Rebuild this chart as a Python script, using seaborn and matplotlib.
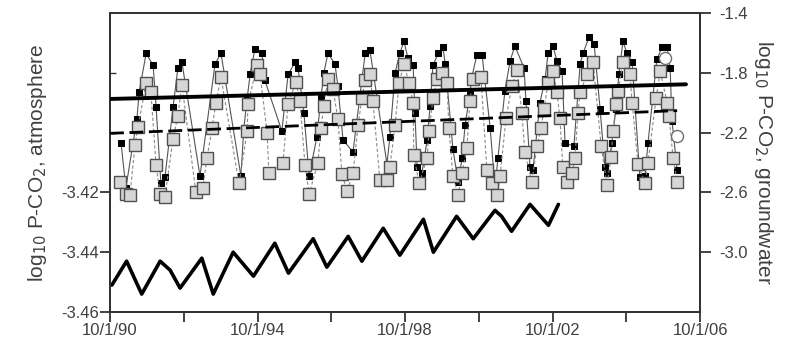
import matplotlib
matplotlib.use("Agg")
import matplotlib.pyplot as plt
from matplotlib.ticker import FixedLocator, FixedFormatter, NullFormatter
import pandas as pd
import seaborn as sns

# ---------------------------------------------------------------------------
# Data (decimal years; log10 partial pressure of CO2)
# ---------------------------------------------------------------------------
# Atmospheric P-CO2 (left axis)
atm_year = [1990.80, 1991.20, 1991.61, 1992.11, 1992.38, 1992.65, 1993.24,
            1993.55, 1994.09, 1994.64, 1995.22, 1995.59, 1996.26, 1996.63,
            1997.21, 1997.58, 1998.16, 1998.61, 1999.25, 1999.52, 2000.15,
            2000.60, 2001.19, 2001.37, 2001.64, 2002.14, 2002.64, 2002.91]
atm_val = [-3.451, -3.443, -3.454, -3.443, -3.446, -3.452, -3.442,
           -3.454, -3.440, -3.448, -3.437, -3.447, -3.4355, -3.445,
           -3.4347, -3.443, -3.432, -3.441, -3.429, -3.440, -3.428,
           -3.4355, -3.426, -3.428, -3.433, -3.424, -3.431, -3.424]

# Groundwater P-CO2, well A (small filled squares, right axis)
gw_a_year = [1991.05, 1991.18, 1991.48, 1991.54, 1991.73, 1991.92, 1992.00,
             1992.13, 1992.24, 1992.46, 1992.59, 1992.70, 1993.19, 1993.60,
             1993.76, 1994.30, 1994.38, 1994.47, 1994.55, 1994.68, 1994.87,
             1994.95, 1995.41, 1995.58, 1995.77, 1995.85, 1996.01, 1996.15,
             1996.36, 1996.47, 1996.55, 1996.66, 1996.85, 1996.93, 1997.07,
             1997.34, 1997.67, 1997.80, 1998.26, 1998.34, 1998.48, 1998.61,
             1998.72, 1998.83, 1998.97, 1999.02, 1999.08, 1999.21, 1999.35,
             1999.43, 1999.51, 1999.65, 1999.78, 1999.84, 1999.89, 2000.05,
             2000.19, 2000.30, 2000.38, 2000.51, 2000.57, 2000.70, 2000.84,
             2001.06, 2001.19, 2001.27, 2001.46, 2001.60, 2001.73, 2001.98,
             2002.03, 2002.14, 2002.22, 2002.41, 2002.55, 2002.63, 2002.76,
             2002.87, 2003.01, 2003.09, 2003.33, 2003.50, 2003.58, 2003.74,
             2003.88, 2004.04, 2004.17, 2004.23, 2004.36, 2004.47, 2004.55,
             2004.66, 2004.77, 2004.91, 2005.12, 2005.26, 2005.34, 2005.58,
             2005.72, 2005.86, 2005.94, 2005.99, 2006.13]
gw_a_val = [-2.27, -2.57, -2.11, -1.93, -1.67, -1.75, -2.03,
            -2.54, -2.50, -2.03, -1.77, -1.73, -2.49, -1.74,
            -1.67, -2.49, -2.17, -1.97, -1.81, -1.64, -1.67,
            -1.85, -2.19, -1.81, -1.73, -1.77, -2.07, -2.49,
            -2.23, -1.97, -1.80, -1.67, -1.74, -1.89, -2.25,
            -2.33, -1.67, -1.65, -2.41, -2.23, -1.80, -1.67,
            -1.59, -1.70, -1.75, -2.07, -2.43, -2.47, -2.25,
            -2.02, -1.75, -1.67, -1.63, -1.74, -1.87, -2.31,
            -2.53, -2.37, -2.15, -1.94, -1.82, -1.68, -1.68,
            -2.17, -2.57, -2.37, -1.92, -1.72, -1.62, -1.77,
            -1.99, -2.43, -2.45, -2.00, -1.84, -1.67, -1.62,
            -1.72, -1.79, -2.27, -2.29, -1.74, -1.67, -1.56,
            -1.61, -2.04, -2.43, -2.47, -2.27, -2.04, -1.81,
            -1.59, -1.67, -1.73, -2.50, -2.49, -2.27, -1.71,
            -1.63, -1.63, -1.77, -2.12, -2.45]

# Groundwater P-CO2, well B (large open squares, right axis)
gw_b_year = [1991.02, 1991.18, 1991.29, 1991.43, 1991.51, 1991.73, 1991.86,
             1992.00, 1992.11, 1992.24, 1992.46, 1992.59, 1992.70, 1993.08,
             1993.27, 1993.38, 1993.52, 1993.62, 1993.76, 1994.25, 1994.47,
             1994.49, 1994.74, 1994.82, 1995.01, 1995.06, 1995.44, 1995.58,
             1995.79, 1995.90, 1996.04, 1996.15, 1996.39, 1996.47, 1996.55,
             1996.66, 1996.80, 1996.93, 1997.04, 1997.18, 1997.34, 1997.48,
             1997.58, 1997.67, 1997.80, 1997.88, 1998.07, 1998.26, 1998.34,
             1998.48, 1998.59, 1998.72, 1998.86, 1998.97, 1998.99, 1999.13,
             1999.35, 1999.40, 1999.51, 1999.62, 1999.75, 1999.89, 1999.94,
             2000.05, 2000.19, 2000.30, 2000.43, 2000.51, 2000.59, 2000.81,
             2000.97, 2001.11, 2001.25, 2001.33, 2001.49, 2001.65, 2001.79,
             2001.92, 2002.00, 2002.19, 2002.33, 2002.44, 2002.52, 2002.63,
             2002.76, 2002.87, 2002.95, 2003.03, 2003.14, 2003.28, 2003.36,
             2003.44, 2003.50, 2003.69, 2003.85, 2004.07, 2004.23, 2004.34,
             2004.39, 2004.47, 2004.53, 2004.66, 2004.85, 2004.91, 2005.07,
             2005.26, 2005.34, 2005.56, 2005.67, 2005.86, 2005.91, 2006.02,
             2006.13]
gw_b_val = [-2.53, -2.61, -2.62, -2.28, -2.16, -1.87, -1.93,
            -2.42, -2.61, -2.63, -2.24, -2.09, -1.88, -2.60,
            -2.57, -2.37, -2.17, -2.00, -1.83, -2.54, -2.19,
            -2.01, -1.75, -1.81, -2.20, -2.47, -2.40, -2.01,
            -1.86, -1.99, -2.42, -2.61, -2.40, -2.17, -2.02,
            -1.84, -1.91, -2.11, -2.48, -2.59, -2.47, -2.15,
            -1.97, -1.85, -1.81, -1.99, -2.52, -2.52, -2.43,
            -2.15, -1.87, -1.74, -1.87, -2.00, -2.35, -2.54,
            -2.37, -2.19, -1.97, -1.84, -1.80, -1.87, -2.17,
            -2.49, -2.62, -2.47, -2.30, -1.99, -1.84, -1.83,
            -2.45, -2.54, -2.62, -2.49, -2.10, -1.89, -1.78,
            -2.07, -2.33, -2.53, -2.29, -2.17, -2.04, -1.87,
            -1.79, -1.93, -2.10, -2.43, -2.53, -2.47, -2.37,
            -2.07, -1.93, -1.81, -1.73, -2.29, -2.55, -2.36,
            -2.19, -2.01, -1.92, -1.73, -1.81, -2.00, -2.41,
            -2.54, -2.40, -1.97, -1.79, -2.00, -2.09, -2.37,
            -2.53]

# Isolated samples shown as open circles
gw_c_year = [2005.80, 2006.13]
gw_c_val = [-1.70, -2.22]

# Linear trends of the two groundwater records (start, end)
trend_a_year = [1990.75, 2006.37]
trend_a_val = [-1.975, -1.877]
trend_b_year = [1990.75, 2006.13]
trend_b_val = [-2.205, -2.053]

# Axis ticks
x_major = [1990.75, 1994.75, 1998.75, 2002.75, 2006.75]
x_major_labels = ["10/1/90", "10/1/94", "10/1/98", "10/1/02", "10/1/06"]
x_minor = [1992.75, 1996.75, 2000.75, 2004.75]
left_ticks = [-3.46, -3.44, -3.42]
left_labels = ["-3.46", "-3.44", "-3.42"]
left_inner = [-3.40, -3.38]
right_ticks = [-3.0, -2.6, -2.2, -1.8, -1.4]
right_labels = ["-3.0", "-2.6", "-2.2", "-1.8", "-1.4"]

# ---------------------------------------------------------------------------
sns.set_style("ticks")
plt.rcParams["font.family"] = ["Liberation Sans", "DejaVu Sans"]
plt.rcParams["axes.unicode_minus"] = False

INK = "#333333"
TXT = "#404040"

fig = plt.figure(figsize=(7.92, 3.45), dpi=100)
ax = fig.add_axes([110 / 792, 33 / 345, 590 / 792, 299 / 345])
ax2 = ax.twinx()

atm = pd.DataFrame({"year": atm_year, "val": atm_val})
gw_a = pd.DataFrame({"year": gw_a_year, "val": gw_a_val})
gw_b = pd.DataFrame({"year": gw_b_year, "val": gw_b_val})
gw_c = pd.DataFrame({"year": gw_c_year, "val": gw_c_val})
tr_a = pd.DataFrame({"year": trend_a_year, "val": trend_a_val})
tr_b = pd.DataFrame({"year": trend_b_year, "val": trend_b_val})

# Atmospheric record on the left axis
sns.lineplot(data=atm, x="year", y="val", ax=ax, color="black", lw=2.6,
             sort=False, estimator=None, legend=False)

# Groundwater records on the right axis
sns.lineplot(data=gw_a, x="year", y="val", ax=ax2, color="#555555", lw=0.8,
             sort=False, estimator=None, legend=False, zorder=2,
             marker="s", markersize=4.6, markerfacecolor="black",
             markeredgecolor="black")
sns.lineplot(data=gw_b, x="year", y="val", ax=ax2, color="#8a8a8a", lw=0.8,
             sort=False, estimator=None, legend=False, zorder=3,
             dashes=False, linestyle=(0, (3, 2)),
             marker="s", markersize=8.3, markerfacecolor="#d6d6d6",
             markeredgecolor="#505050", markeredgewidth=1.0)
sns.scatterplot(data=gw_c, x="year", y="val", ax=ax2, marker="o", s=75,
                facecolor="white", edgecolor="#707070", linewidth=1.0,
                zorder=4, legend=False)

# Trend lines
sns.lineplot(data=tr_a, x="year", y="val", ax=ax2, color="black", lw=2.8,
             sort=False, estimator=None, legend=False, zorder=5)
sns.lineplot(data=tr_b, x="year", y="val", ax=ax2, color="black", lw=2.0,
             sort=False, estimator=None, legend=False, zorder=5,
             linestyle=(0, (5, 2)))

# Limits
ax.set_xlim(1990.75, 2006.75)
ax.set_ylim(-3.46, -3.36)
ax2.set_ylim(-3.4, -1.4)

# X ticks
ax.xaxis.set_major_locator(FixedLocator(x_major))
ax.xaxis.set_major_formatter(FixedFormatter(x_major_labels))
ax.xaxis.set_minor_locator(FixedLocator(x_minor))
ax.tick_params(axis="x", which="both", direction="out", length=7, width=1.3,
               color=INK, labelsize=12, labelcolor=TXT, pad=1)

# Left ticks: labelled ones outward, upper ones inward
ax.yaxis.set_major_locator(FixedLocator(left_ticks))
ax.yaxis.set_major_formatter(FixedFormatter(left_labels))
ax.yaxis.set_minor_locator(FixedLocator(left_inner))
ax.yaxis.set_minor_formatter(NullFormatter())
ax.tick_params(axis="y", which="major", direction="out", length=7, width=1.3,
               color=INK, labelsize=12, labelcolor=TXT, pad=1)
ax.tick_params(axis="y", which="minor", direction="in", length=4, width=1.0,
               color=INK)

# Right ticks
ax2.yaxis.set_major_locator(FixedLocator(right_ticks))
ax2.yaxis.set_major_formatter(FixedFormatter(right_labels))
ax2.tick_params(axis="y", which="major", direction="out", length=8, width=1.3,
                color=INK, labelsize=12, labelcolor=TXT, pad=6)

for a in (ax, ax2):
    for s in a.spines.values():
        s.set_visible(True)
        s.set_color(INK)
        s.set_linewidth(1.4)

ax.set_xlabel("")
ax.set_ylabel(r"log$_{10}$ P-CO$_{2}$, atmosphere", fontsize=15, color=TXT)
ax.yaxis.set_label_coords(-0.103, 0.5)
ax2.set_ylabel(r"log$_{10}$ P-CO$_{2}$, groundwater", fontsize=15, color=TXT,
               rotation=270, va="bottom")
ax2.yaxis.set_label_coords(1.088, 0.5)
ax2.set_xlabel("")

fig.savefig("out.png", dpi=100)
